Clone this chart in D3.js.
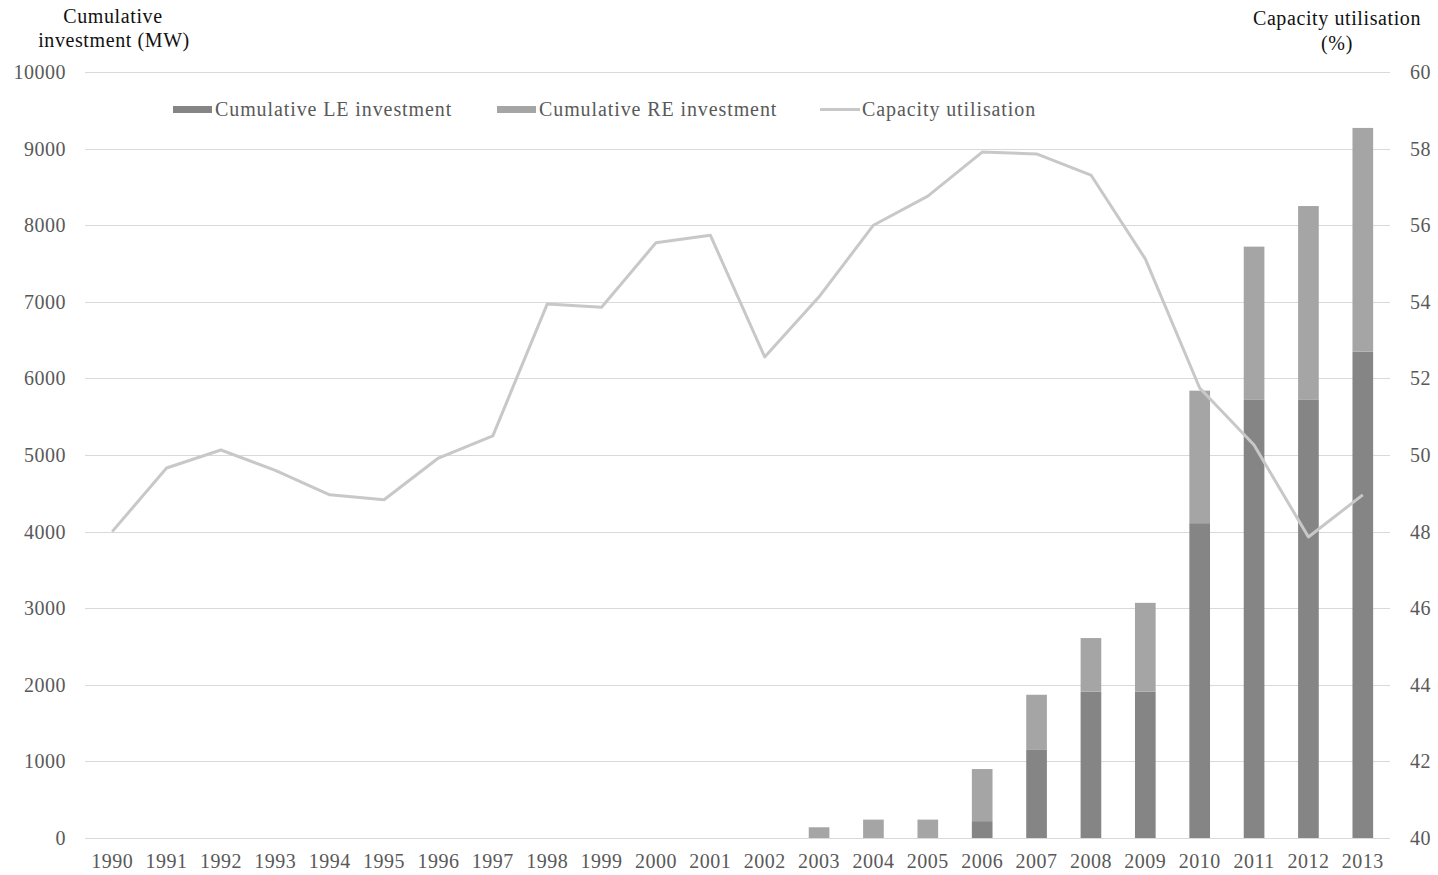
<!DOCTYPE html>
<html><head><meta charset="utf-8">
<script src="https://cdn.jsdelivr.net/npm/d3@7/dist/d3.min.js"></script>
<style>body{margin:0;background:#fff}svg{display:block}</style>
</head><body>
<svg id="c" width="1438" height="875"></svg>
<script>
const years = [1990,1991,1992,1993,1994,1995,1996,1997,1998,1999,2000,2001,2002,2003,2004,2005,2006,2007,2008,2009,2010,2011,2012,2013];
const leInvestment = [0,0,0,0,0,0,0,0,0,0,0,0,0,0,0,0,220,1150,1910,1910,4110,5720,5720,6350];
const totalInvestment = [0,0,0,0,0,0,0,0,0,0,0,0,0,140,240,240,900,1870,2610,3070,5840,7720,8250,9270];
const reInvestment = totalInvestment.map((t,i)=>t-leInvestment[i]);
const capacityUtil = [48.0,49.66,50.13,49.6,48.96,48.83,49.92,50.5,53.94,53.86,55.54,55.74,52.56,54.13,56.0,56.76,57.91,57.86,57.31,55.12,51.75,50.26,47.86,48.96];
const leftTicks = [0,1000,2000,3000,4000,5000,6000,7000,8000,9000,10000];
const rightTicks = [40,42,44,46,48,50,52,54,56,58,60];
const legendLabels = ["Cumulative LE investment","Cumulative RE investment","Capacity utilisation"];

const svg = d3.select("#c");
const font = "'Liberation Serif','Times New Roman',serif";
const L = 85, R = 1390, T = 72, B = 838;
const x = d3.scaleBand().domain(years).range([L,R]).paddingInner(0.62).paddingOuter(0.31);
const xc = d3.scaleBand().domain(years).range([L,R]);
const yL = d3.scaleLinear().domain([0,10000]).range([B,T]);
const yR = d3.scaleLinear().domain([40,60]).range([B,T]);

// gridlines
svg.append("g").selectAll("line").data(leftTicks).join("line")
  .attr("x1",L).attr("x2",R).attr("y1",d=>Math.round(yL(d))+0.5).attr("y2",d=>Math.round(yL(d))+0.5)
  .attr("stroke","#d9d9d9").attr("stroke-width",1);

function styleTicks(g){
  g.select(".domain").remove();
  g.selectAll("text").attr("font-family",font).attr("font-size",20).attr("letter-spacing",0.5).attr("fill","#595959");
}
const gL = svg.append("g").attr("transform",`translate(${L},0)`)
  .call(d3.axisLeft(yL).tickValues(leftTicks).tickSize(0).tickPadding(19).tickFormat(d3.format("d")));
styleTicks(gL);

const gR = svg.append("g").attr("transform",`translate(${R},0)`)
  .call(d3.axisRight(yR).tickValues(rightTicks).tickSize(0).tickPadding(20));
styleTicks(gR);

const gX = svg.append("g").attr("transform",`translate(0,${B})`)
  .call(d3.axisBottom(xc).tickSize(0).tickPadding(16));
styleTicks(gX);

// bars
const leColor = "#858585", reColor = "#a5a5a5";
svg.append("g").selectAll("rect").data(years).join("rect")
  .attr("x",d=>x(d)).attr("width",x.bandwidth())
  .attr("y",(d,i)=>yL(leInvestment[i])).attr("height",(d,i)=>B-yL(leInvestment[i]))
  .attr("fill",leColor);
svg.append("g").selectAll("rect").data(years).join("rect")
  .attr("x",d=>x(d)).attr("width",x.bandwidth())
  .attr("y",(d,i)=>yL(totalInvestment[i])).attr("height",(d,i)=>yL(leInvestment[i])-yL(totalInvestment[i]))
  .attr("fill",reColor);

// line
const line = d3.line().x((d,i)=>xc(years[i])+xc.bandwidth()/2).y(d=>yR(d));
svg.append("path").datum(capacityUtil).attr("d",line)
  .attr("fill","none").attr("stroke","#c8c8c8").attr("stroke-width",3).attr("stroke-linejoin","round");

// legend
const lg = svg.append("g");
const items = [
  {x:173, type:"rect", color:leColor, label:legendLabels[0]},
  {x:497, type:"rect", color:reColor, label:legendLabels[1]},
  {x:820, type:"line", color:"#c8c8c8", label:legendLabels[2]}
];
items.forEach(it=>{
  if(it.type==="rect") lg.append("rect").attr("x",it.x).attr("y",106).attr("width",39).attr("height",7).attr("fill",it.color);
  else lg.append("line").attr("x1",it.x).attr("x2",it.x+40).attr("y1",109.5).attr("y2",109.5).attr("stroke",it.color).attr("stroke-width",3);
  lg.append("text").attr("x",it.x+42).attr("y",116).text(it.label)
    .attr("font-family",font).attr("font-size",20).attr("letter-spacing",0.9).attr("fill","#595959");
});

// axis titles
const tt = svg.append("g").attr("font-family",font).attr("font-size",20).attr("letter-spacing",0.6).attr("fill","#111").attr("text-anchor","middle");
tt.append("text").attr("x",113).attr("y",23).text("Cumulative");
tt.append("text").attr("x",114).attr("y",47).text("investment (MW)");
tt.append("text").attr("x",1337).attr("y",25).text("Capacity utilisation");
tt.append("text").attr("x",1337).attr("y",50).text("(%)");
</script>
</body></html>
